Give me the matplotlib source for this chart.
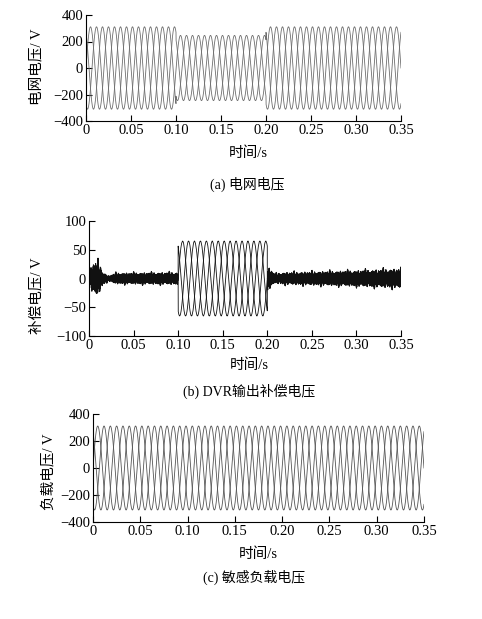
import numpy as np
import matplotlib
matplotlib.use("Agg")
import matplotlib.pyplot as plt
from matplotlib.ticker import FuncFormatter

plt.rcParams['font.family'] = ['Liberation Serif', 'Noto Sans CJK SC']
plt.rcParams['font.size'] = 10
plt.rcParams['axes.unicode_minus'] = True

# ---------------- data ----------------
freq_hz = 50.0
phase_deg = [0.0, -120.0, 120.0]
seg_edges = [0.0, 0.10, 0.20, 0.35]
grid_amp = [311.0, 246.0, 311.0]        # grid voltage amplitude per segment
comp_amp = [0.0, 65.0, 0.0]             # DVR compensation amplitude per segment
load_amp = [311.0, 311.0, 311.0]        # load voltage amplitude per segment

# residual switching ripple in the DVR output (harmonic order, amplitude V)
ripple_order = [23, 37, 53, 71, 89, 113, 131, 157]
ripple_amp = [1.5, 2.0, 2.5, 1.8, 2.2, 1.6, 1.4, 1.2]
# ripple envelope (time s, gain)
env_t = [0.0, 0.004, 0.010, 0.016, 0.022, 0.030, 0.0995, 0.1000, 0.2000, 0.2005,
         0.203, 0.208, 0.22, 0.30, 0.35]
env_g = [1.0, 2.5, 2.8, 1.0, 0.45, 0.9, 1.0, 0.02, 0.02, 1.8,
         1.7, 0.8, 1.0, 1.3, 1.6]

xticks = [0, 0.05, 0.10, 0.15, 0.20, 0.25, 0.30, 0.35]
xticklabels = ["0", "0.05", "0.10", "0.15", "0.20", "0.25", "0.30", "0.35"]
yticks_v = [-400, -200, 0, 200, 400]
yticks_c = [-100, -50, 0, 50, 100]

ylabels = ["电网电压/ V", "补偿电压/ V", "负载电压/ V"]
xlabel = "时间/s"
captions = ["(a) 电网电压", "(b) DVR输出补偿电压", "(c) 敏感负载电压"]

# ---------------- waveforms ----------------
t = np.arange(0, 0.35 + 1e-6, 1e-5)
seg_idx = np.clip(np.searchsorted(seg_edges, t, side='right') - 1, 0, 2)


def three_phase(amps):
    a = np.asarray(amps)[seg_idx]
    return [a * np.sin(2 * np.pi * freq_hz * t + np.deg2rad(p)) for p in phase_deg]


grid = three_phase(grid_amp)
load = three_phase(load_amp)
comp = three_phase(comp_amp)
env = np.interp(t, env_t, env_g)
for k, p in enumerate(phase_deg):
    r = np.zeros_like(t)
    for j, (n, a) in enumerate(zip(ripple_order, ripple_amp)):
        r += a * np.sin(2 * np.pi * freq_hz * n * t + np.deg2rad(p * (j + 1) + 37 * j))
    comp[k] = comp[k] + r * env

# ---------------- figure ----------------
W, H = 482, 619
fig = plt.figure(figsize=(W / 100, H / 100), dpi=100)


def px_axes(x0, x1, ytop, ybot):
    return fig.add_axes([x0 / W, 1 - ybot / H, (x1 - x0) / W, (ybot - ytop) / H])


axes = [px_axes(86, 401, 15, 121), px_axes(89, 401, 221, 336), px_axes(93, 424, 414, 522)]
series = [grid, comp, load]
colors = ["#6e6e6e", "#111111", "#555555"]
ylims = [(-400, 400), (-100, 100), (-400, 400)]
yticks = [yticks_v, yticks_c, yticks_v]

for ax, s, c, yl, yt in zip(axes, series, colors, ylims, yticks):
    for wave in s:
        ax.plot(t, wave, color=c, lw=0.6)
    ax.set_xlim(0, 0.35)
    ax.set_ylim(*yl)
    ax.set_xticks(xticks)
    ax.set_xticklabels(xticklabels)
    ax.set_yticks(yt)
    ax.yaxis.set_major_formatter(FuncFormatter(lambda v, _: ("\u2212%d" % abs(v)) if v < 0 else "%d" % v))
    for sp in ("top", "right"):
        ax.spines[sp].set_visible(False)
    ax.tick_params(direction="in", length=4, width=0.8, pad=2, labelsize=10.5)
    ax.margins(0)

# labels
ylab_pos = [(37, 67), (37, 296), (48, 472)]
xlab_pos = [(248, 153), (249, 365), (258, 554)]
cap_pos = [(247, 184), (249, 391), (254, 577)]
for (x, y), txt in zip(ylab_pos, ylabels):
    fig.text(x / W, 1 - y / H, txt, rotation=90, ha="center", va="center", fontsize=10.5)
for (x, y) in xlab_pos:
    fig.text(x / W, 1 - y / H, xlabel, ha="center", va="center", fontsize=10.5)
for (x, y), txt in zip(cap_pos, captions):
    fig.text(x / W, 1 - y / H, txt, ha="center", va="center", fontsize=10)

fig.savefig("out.png", dpi=100)
